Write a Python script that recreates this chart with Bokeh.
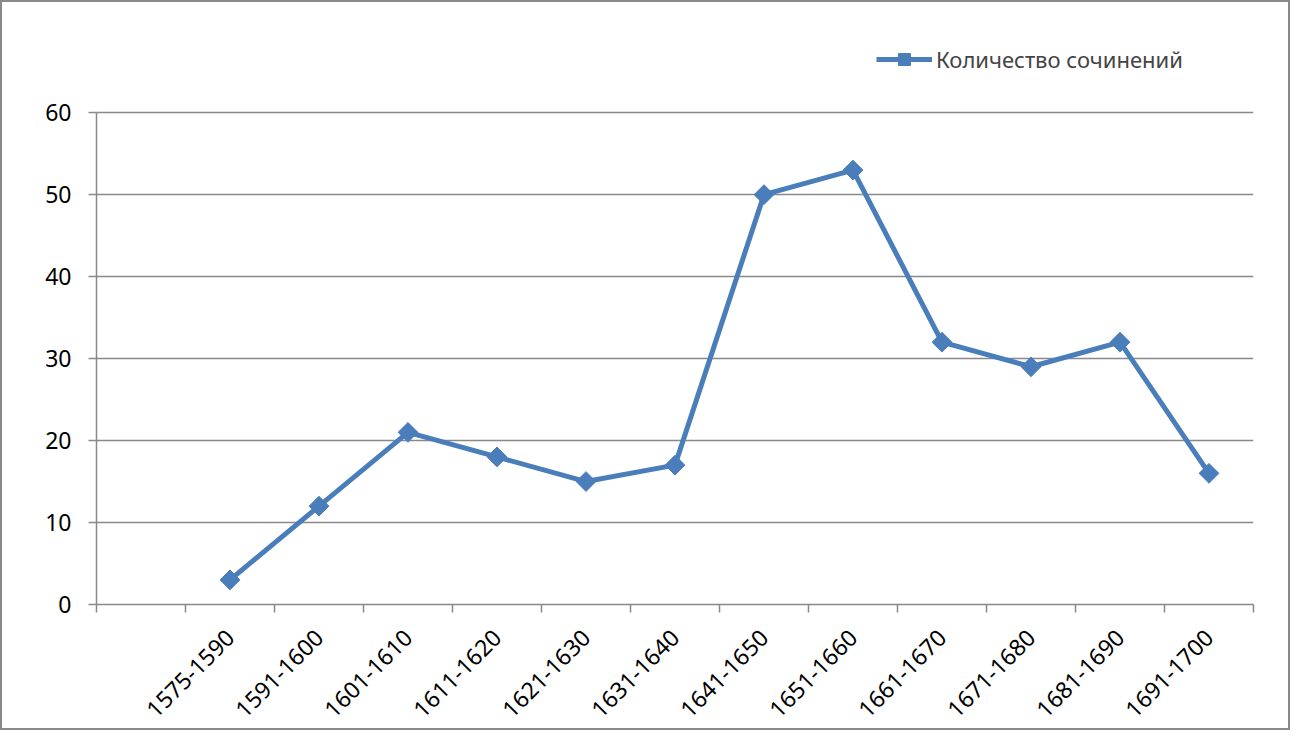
from math import pi
from bokeh.plotting import figure
from bokeh.models import Range1d, Legend, LegendItem, ColumnDataSource, FixedTicker
from bokeh.embed import file_html
from bokeh.resources import INLINE

categories = ["", "1575-1590", "1591-1600", "1601-1610", "1611-1620", "1621-1630",
              "1631-1640", "1641-1650", "1651-1660", "1661-1670", "1671-1680",
              "1681-1690", "1691-1700"]
periods = categories[1:]
counts = [3, 12, 21, 18, 15, 17, 50, 53, 32, 29, 32, 16]
y_ticks = [0, 10, 20, 30, 40, 50, 60]
series_name = "Количество сочинений"

FONT = "Noto Sans"
BLUE = "#4a7ebb"
GRAY = "#898989"

n = len(categories)
centers = [i + 0.5 for i in range(n)]
boundaries = list(range(n + 1))
x_pos = [categories.index(c) + 0.5 for c in periods]

p = figure(width=1290, height=730, x_range=Range1d(0, n), y_range=Range1d(0, 71),
           output_backend="svg", toolbar_location=None,
           min_border_left=94, min_border_right=39, min_border_top=20, min_border_bottom=128)
p.styles = {"border": "2px solid #898989", "box-sizing": "border-box"}
p.outline_line_color = None
p.background_fill_color = "white"

src = ColumnDataSource(dict(x=x_pos, y=counts))
ln = p.line("x", "y", source=src, line_color=BLUE, line_width=5)
mk = p.scatter("x", "y", source=src, marker="square", angle=pi / 4, size=14,
               fill_color=BLUE, line_color=BLUE)

p.xgrid.grid_line_color = None
p.ygrid.grid_line_color = GRAY
p.ygrid.grid_line_width = 1.5
p.yaxis.ticker = FixedTicker(ticks=y_ticks, minor_ticks=[])
p.yaxis.bounds = (0, 60)

p.xaxis.ticker = FixedTicker(ticks=centers, minor_ticks=boundaries)
p.xaxis.major_label_overrides = {c: lab for c, lab in zip(centers, categories)}

for ax in (p.xaxis[0], p.yaxis[0]):
    ax.axis_line_color = GRAY
    ax.axis_line_width = 1.5
    ax.major_tick_line_color = GRAY
    ax.major_tick_line_width = 1.5
    ax.major_tick_out = 8
    ax.major_tick_in = 0
    ax.minor_tick_line_color = None
    ax.major_label_text_font = FONT
    ax.major_label_text_color = "black"

p.xaxis.major_tick_line_color = None
p.xaxis.minor_tick_line_color = GRAY
p.xaxis.minor_tick_line_width = 1.5
p.xaxis.minor_tick_out = 8
p.xaxis.minor_tick_in = 0

p.yaxis.major_label_text_font_size = "23px"
p.yaxis.major_label_standoff = 17
p.xaxis.major_label_text_font_size = "23px"
p.xaxis.major_label_orientation = pi / 4
p.xaxis.major_label_standoff = 21

legend = Legend(items=[LegendItem(label=series_name, renderers=[ln, mk])],
                location=(780, 530), orientation="horizontal",
                label_text_font=FONT, label_text_font_size="22px",
                glyph_width=56, glyph_height=30, label_standoff=4,
                border_line_color=None, background_fill_alpha=0, padding=0, margin=0)
p.add_layout(legend, "center")

open("out.html", "w").write(file_html(p, INLINE))
